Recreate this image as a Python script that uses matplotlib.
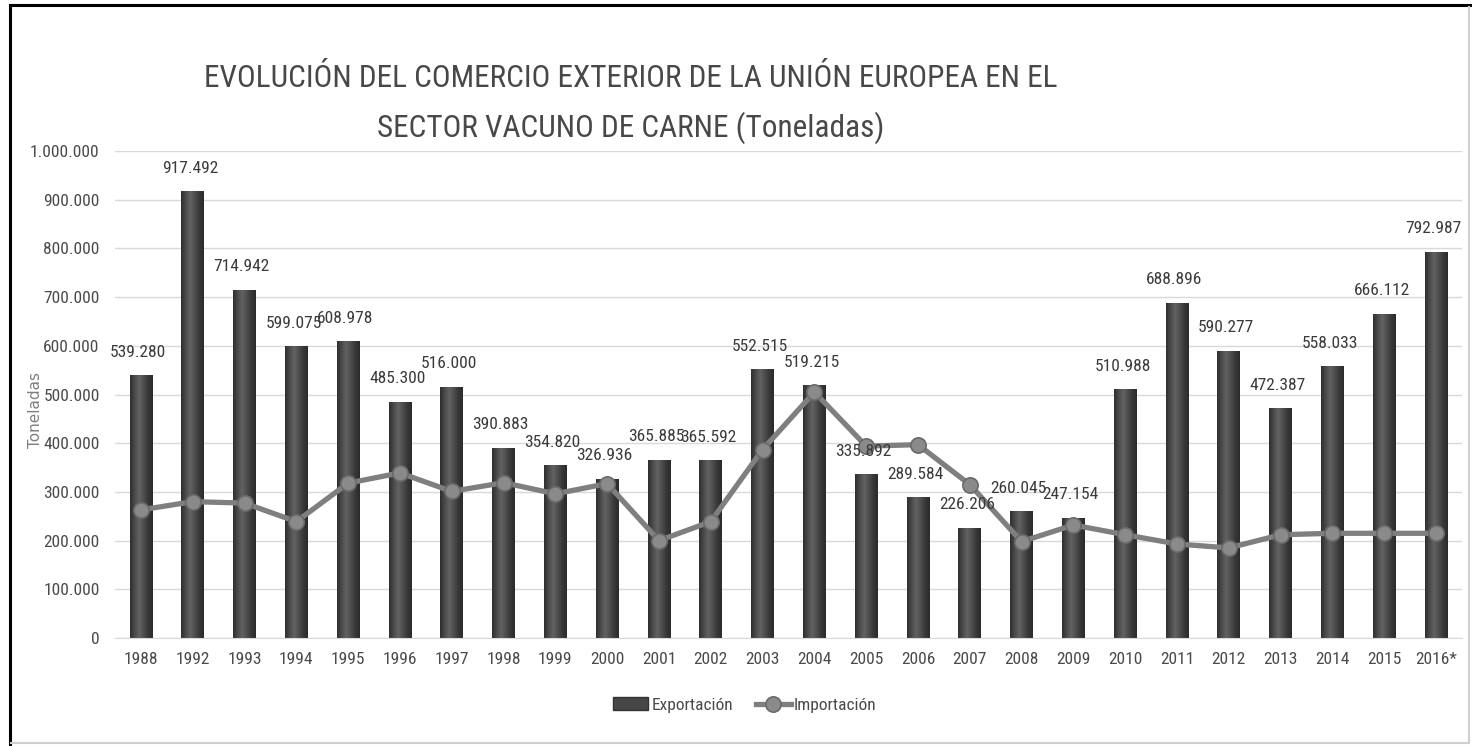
import matplotlib
matplotlib.use("Agg")
import matplotlib.pyplot as plt
from matplotlib import font_manager
from matplotlib.lines import Line2D
from matplotlib.patches import Patch
from matplotlib.colors import LinearSegmentedColormap
import numpy as np

years = ["1988", "1992", "1993", "1994", "1995", "1996", "1997", "1998", "1999",
         "2000", "2001", "2002", "2003", "2004", "2005", "2006", "2007", "2008",
         "2009", "2010", "2011", "2012", "2013", "2014", "2015", "2016*"]
exportacion = [539280, 917492, 714942, 599075, 608978, 485300, 516000, 390883, 354820,
               326936, 365885, 365592, 552515, 519215, 335892, 289584, 226206, 260045,
               247154, 510988, 688896, 590277, 472387, 558033, 666112, 792987]
importacion = [263000, 280000, 277000, 239000, 318000, 339000, 301000, 319000, 296000,
               317000, 200000, 239000, 387000, 505000, 394000, 397000, 315000, 198000,
               232000, 212000, 193000, 185000, 212000, 215000, 215000, 215000]
yticks = [0, 100000, 200000, 300000, 400000, 500000, 600000, 700000, 800000, 900000, 1000000]
title = "EVOLUCIÓN DEL COMERCIO EXTERIOR DE LA UNIÓN EUROPEA EN EL\nSECTOR VACUNO DE CARNE (Toneladas)"

# pick a narrow font if one is installed
COND = ("condensed", "semi-condensed", "extra-condensed", "ultra-condensed")
entries = font_manager.fontManager.ttflist
FONT, STRETCH, NARROW = "DejaVu Sans", "normal", False
for pref in ["Liberation Sans Narrow", "Roboto Condensed", "Open Sans Condensed",
             "Noto Sans Condensed", "Open Sans", "Noto Sans", "Roboto", "DejaVu Sans"]:
    hit = [f for f in entries if f.name == pref and (f.stretch in COND or "Narrow" in f.name or "Condensed" in f.name)]
    if hit:
        FONT, STRETCH, NARROW = pref, hit[0].stretch, True
        break
if not NARROW:
    FONT = "Open Sans" if any(f.name == "Open Sans" for f in entries) else "DejaVu Sans"
plt.rcParams["font.family"] = [FONT, "DejaVu Sans"]
plt.rcParams["font.stretch"] = STRETCH
S = 1.0 if NARROW else 0.86

def fmt(v):
    return f"{v:,}".replace(",", ".")

fig = plt.figure(figsize=(14.72, 7.46), dpi=100)
ax = fig.add_axes([115/1472, 1 - 638/746, (1462-115)/1472, (638-151)/746])

x = np.arange(len(years))
bars = ax.bar(x, exportacion, width=0.44, color="#464646", zorder=2)

cmap = LinearSegmentedColormap.from_list("bar", ["#2e2e2e", "#4a4a4a", "#626262", "#4e4e4e", "#383838", "#2a2a2a"])
grad = np.linspace(0, 1, 64).reshape(1, -1)
for b in bars:
    bx, bw, bh = b.get_x(), b.get_width(), b.get_height()
    im = ax.imshow(grad, cmap=cmap, aspect="auto", extent=[bx, bx + bw, 0, bh], zorder=2.1)
    im.set_clip_path(b)

ax.set_xlim(-0.5, len(years) - 0.5)
ax.set_ylim(0, 1000000)

FS = 12.5 * S
for xi, v in zip(x, exportacion):
    ax.annotate(fmt(v), (xi, v), xytext=(-2, 16.5), textcoords="offset points",
                ha="center", va="center", fontsize=FS, color="#3a3a3a", zorder=5)

line, = ax.plot(x, importacion, color="#7f7f7f", lw=3.8, marker="o", markersize=11,
                markerfacecolor="#8a8a8a", markeredgecolor="#6a6a6a", markeredgewidth=1.2,
                zorder=4)

ax.set_yticks(yticks)
ax.set_yticklabels([fmt(v) for v in yticks])
ax.set_xticks(x)
ax.set_xticklabels(years)
ax.tick_params(axis="both", length=0, labelsize=FS, labelcolor="#4a4a4a")
ax.tick_params(axis="y", pad=11)
ax.tick_params(axis="x", pad=10)
ax.grid(axis="y", color="#d9d9d9", lw=1, zorder=0)
ax.set_axisbelow(True)
for s in ["top", "right", "left"]:
    ax.spines[s].set_visible(False)
ax.spines["bottom"].set_color("#d9d9d9")

fig.text(35/1472, 1 - 410/746, "Toneladas", rotation=90, ha="center", va="center",
         fontsize=11, color="#7f7f7f", family="DejaVu Sans", stretch="normal")

fig.text(631/1472, 1 - 104/746, title, ha="center", va="center", fontsize=22.5 * S,
         color="#484848", linespacing=1.75)

handles = [Patch(facecolor="#464646", edgecolor="#333333"), line]
leg = fig.legend(handles, ["Exportación", "Importación"], loc="center",
                 bbox_to_anchor=(745/1472, 1 - 705/746), ncol=2, frameon=False,
                 fontsize=FS, handlelength=2.0, columnspacing=1.3, handletextpad=0.2)
for t in leg.get_texts():
    t.set_color("#4a4a4a")

# frame around the image
fig.add_artist(Line2D([10/1472, 10/1472], [0, 1 - 5/746], transform=fig.transFigure, color="black", lw=2.2))
fig.add_artist(Line2D([10/1472, 1470/1472], [1 - 5/746, 1 - 5/746], transform=fig.transFigure, color="black", lw=2.2))
fig.add_artist(Line2D([1469/1472, 1469/1472], [1 - 743/746, 1 - 7/746], transform=fig.transFigure, color="#d0d0d0", lw=1.5))
fig.add_artist(Line2D([11/1472, 1469/1472], [1 - 743/746, 1 - 743/746], transform=fig.transFigure, color="#d0d0d0", lw=1.5))

fig.savefig("out.png", dpi=100)
